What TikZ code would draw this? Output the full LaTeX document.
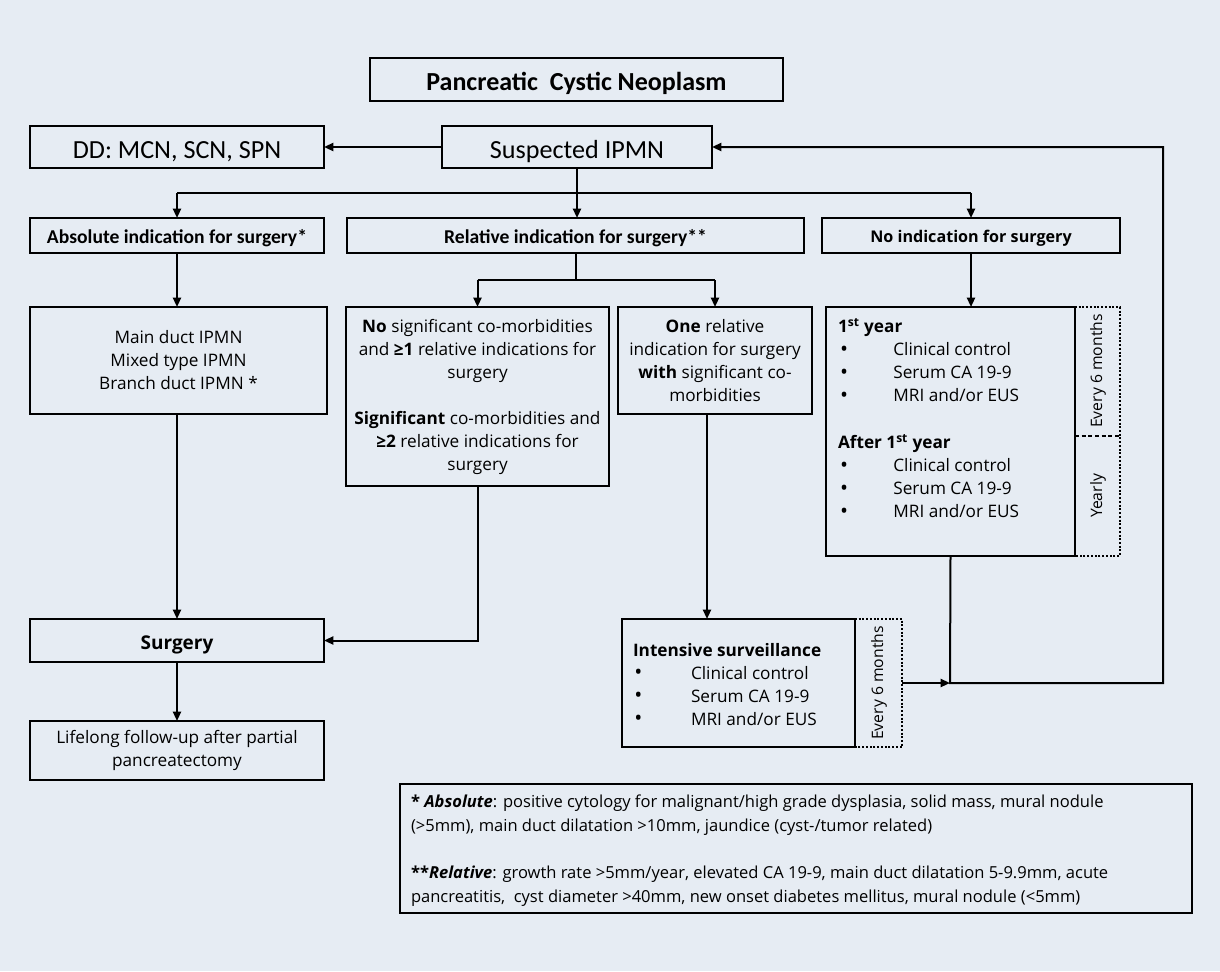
\documentclass[tikz,border=0pt]{standalone}
\usepackage{fontspec}
\setmainfont{Open Sans}
\newfontfamily\calfont{Carlito}
\usetikzlibrary{arrows.meta}
\definecolor{bg}{RGB}{230,236,243}
\newcommand\bul{\makebox[0pt][l]{\raisebox{-0.3pt}{\fontsize{16pt}{16pt}\selectfont •}}}
\newcommand\dn[2][3pt]{\raisebox{-#1}[\height][\depth]{#2}}
\begin{document}
\begin{tikzpicture}[x=0.75pt,y=-0.75pt,
  box/.style={draw,line width=1.5pt,inner sep=0pt,outer sep=0pt,align=center},
  ghost/.style={draw=none,inner sep=0pt,outer sep=0pt},
  arr/.style={line width=1.5pt,-{Triangle[length=7pt,width=6pt]}},
  ln/.style={line width=1.5pt},
  dotline/.style={line width=1.5pt,dash pattern=on 1.5pt off 1.3pt},
  fbody/.style={font=\fontsize{12.9pt}{17.25pt}\selectfont},
  fhead/.style={font=\calfont\bfseries\fontsize{14.7pt}{17pt}\selectfont},
  fheados/.style={font=\bfseries\fontsize{12.1pt}{16pt}\selectfont},
  frot/.style={font=\fontsize{11.8pt}{14pt}\selectfont,rotate=90}]
\fill[bg] (0,0) rectangle (1220,971);
\useasboundingbox (0,0) rectangle (1220,971);

% boxes
\node[box,minimum width=309.75pt,minimum height=32.25pt,font=\calfont\bfseries\fontsize{19.5pt}{22pt}\selectfont] (title) at (576.5,79.5) {\dn[3pt]{Pancreatic\ \ Cystic Neoplasm}};
\node[box,minimum width=220.5pt,minimum height=31.5pt,font=\calfont\fontsize{19.6pt}{22pt}\selectfont] (dd) at (177,147) {\dn[3.6pt]{DD: MCN, SCN, SPN}};
\node[box,minimum width=202.5pt,minimum height=31.5pt,font=\calfont\fontsize{19.6pt}{22pt}\selectfont] (susp) at (577,147) {\dn[3.6pt]{Suspected IPMN}};
\node[box,fhead,minimum width=220.5pt,minimum height=26.25pt] (abs) at (177,235.5) {\dn[2.2pt]{Absolute indication for surgery*}};
\node[box,fhead,minimum width=342.75pt,minimum height=26.25pt] (rel) at (575.5,235.5) {\dn[2.2pt]{Relative indication for surgery**}};
\node[box,fheados,minimum width=223.5pt,minimum height=26.25pt] (noind) at (971,235.5) {\dn[2.2pt]{No indication for surgery}};
\node[box,fbody,minimum width=222.75pt,minimum height=80.25pt] (main) at (178.5,360.5) {\dn[1.2pt]{\begin{tabular}{@{}c@{}}Main duct IPMN\\Mixed type IPMN\\Branch duct IPMN *\end{tabular}}};
\node[box,fbody,minimum width=197.25pt,minimum height=134.25pt] (nosig) at (477.5,396.5) {\textbf{No} significant co-morbidities\\and \textbf{≥1} relative indications for\\surgery\\[17.25pt]\textbf{Significant} co-morbidities and\\\textbf{≥2} relative indications for\\surgery};
\node[box,fbody,minimum width=145.5pt,minimum height=80.25pt] (one) at (715,360.5) {\textbf{One} relative\\indication for surgery\\\textbf{with} significant co-\\morbidities};
\node[box,minimum width=186.75pt,minimum height=186.75pt] (year) at (950.5,431.5) {};
\node[ghost,minimum width=33.75pt,minimum height=186.75pt] (yeardot) at (1097.5,431.5) {};
\node[box,font=\bfseries\fontsize{14.2pt}{17pt}\selectfont,minimum width=220.5pt,minimum height=32.25pt] (surg) at (177,640.5) {\dn[3.5pt]{Surgery}};
\node[box,fbody,minimum width=220.5pt,minimum height=44.25pt] (life) at (177,750.5) {Lifelong follow-up after partial\\pancreatectomy};
\node[box,minimum width=174.75pt,minimum height=96pt] (int) at (738.5,683) {};
\node[ghost,minimum width=35.25pt,minimum height=96pt] (intdot) at (878.5,683) {};
\node[box,minimum width=594pt,minimum height=96.75pt] (foot) at (796,848.5) {};

% text inside left-aligned boxes
\node[ghost,fbody,anchor=north west,align=left] (yeartxt) at (838,319) {\textbf{1\textsuperscript{st} year}\\
\hspace*{1.5pt}\makebox[40pt][l]{\bul}Clinical control\\
\hspace*{1.5pt}\makebox[40pt][l]{\bul}Serum CA 19-9\\
\hspace*{1.5pt}\makebox[40pt][l]{\bul}MRI and/or EUS\\[18pt]
\textbf{After 1\textsuperscript{st} year}\\
\hspace*{1.5pt}\makebox[40pt][l]{\bul}Clinical control\\
\hspace*{1.5pt}\makebox[40pt][l]{\bul}Serum CA 19-9\\
\hspace*{1.5pt}\makebox[40pt][l]{\bul}MRI and/or EUS};
\node[ghost,fbody,anchor=north west,align=left] (inttxt) at (633,643) {\textbf{Intensive surveillance}\\
\hspace*{1pt}\makebox[42.5pt][l]{\bul}Clinical control\\
\hspace*{1pt}\makebox[42.5pt][l]{\bul}Serum CA 19-9\\
\hspace*{1pt}\makebox[42.5pt][l]{\bul}MRI and/or EUS};
\node[ghost,anchor=north west,align=left,font=\fontsize{12.4pt}{18pt}\selectfont] (foottxt) at (411,795) {\textbf{* \textit{Absolute}}: positive cytology for malignant/high grade dysplasia, solid mass, mural nodule\\
(>5mm), main duct dilatation >10mm, jaundice (cyst-/tumor related)\\[17.5pt]
\textbf{**\textit{Relative}}: growth rate >5mm/year, elevated CA 19-9, main duct dilatation 5-9.9mm, acute\\
pancreatitis,\ \ cyst diameter >40mm, new onset diabetes mellitus, mural nodule (<5mm)};

% dotted side boxes
\draw[dotline] (yeardot.north west) -- (yeardot.north east) -- (yeardot.south east) -- (yeardot.south west);
\draw[line width=1pt,dash pattern=on 3pt off 2pt] (1075,436) -- (1120,436);
\node[ghost,frot] (ev1) at (1098,371) {Every 6 months};
\node[ghost,frot] (yly) at (1098,496) {Yearly};
\draw[dotline] (intdot.north west) -- (intdot.north east) -- (intdot.south east) -- (intdot.south west);
\node[ghost,frot] (ev2) at (879,683) {Every 6 months};

% connectors
\coordinate (jm) at (577,193);
\coordinate (jl) at (177,193);
\coordinate (jr) at (971,193);
\draw[arr] (susp.west) -- (dd.east);
\draw[ln] (susp.south -| jm) -- (jm);
\draw[ln] (jl) -- (jr);
\draw[arr] (jl) -- (abs.north);
\draw[arr] (jm) -- (jm |- rel.north);
\draw[arr] (jr) -- (noind.north);
\draw[arr] (abs.south) -- (abs.south |- main.north);
\coordinate (rm) at (575.5,280);
\coordinate (rl) at (477.5,280);
\coordinate (rr) at (715,280);
\draw[ln] (rel.south) -- (rm);
\draw[ln] (rl) -- (rr);
\draw[arr] (rl) -- (nosig.north);
\draw[arr] (rr) -- (one.north);
\draw[arr] (noind.south) -- (noind.south |- year.north);
\draw[arr] (surg.north |- main.south) -- (surg.north);
\draw[arr] (nosig.south) |- (surg.east);
\coordinate (od) at (707,414.75);
\draw[arr] (od) -- (od |- int.north);
\draw[arr] (surg.south) -- (life.north);
\coordinate (jy) at (950,683);
\coordinate (loop) at (1163,683);
\draw[arr] (intdot.east) -- (jy);
\draw[arr] (year.south) -- (jy) -- (loop) |- (susp.east);
\end{tikzpicture}
\end{document}
